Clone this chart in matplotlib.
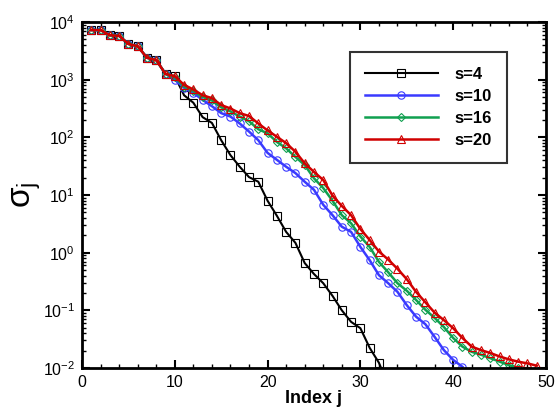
import numpy as np
import matplotlib
matplotlib.use('Agg')
import matplotlib.pyplot as plt
from matplotlib.ticker import LogLocator, MultipleLocator, NullFormatter

plt.rcParams['font.family'] = ['Liberation Sans', 'DejaVu Sans']
plt.rcParams['mathtext.default'] = 'regular'

# singular values (log10), index j = 1, 2, ...
head = [3.86, 3.86, 3.77, 3.76, 3.62, 3.58, 3.38, 3.34, 3.10]

log_s4 = head + [3.06, 2.73, 2.60, 2.35, 2.25, 1.95, 1.69, 1.49, 1.31, 1.23,
                 0.90, 0.64, 0.36, 0.17, -0.18, -0.37, -0.53, -0.75, -1.00, -1.20,
                 -1.31, -1.65, -1.91, -2.30]
log_s10 = head + [3.00, 2.86, 2.77, 2.65, 2.54, 2.42, 2.36, 2.24, 2.10, 1.95,
                  1.73, 1.61, 1.49, 1.38, 1.23, 1.09, 0.83, 0.65, 0.45, 0.36,
                  0.10, -0.13, -0.39, -0.53, -0.68, -0.91, -1.11, -1.24, -1.46, -1.69,
                  -1.86, -1.98]
log_s16 = head + [3.04, 2.88, 2.80, 2.70, 2.64, 2.52, 2.45, 2.36, 2.28, 2.14,
                  2.07, 1.92, 1.81, 1.66, 1.52, 1.29, 1.12, 0.90, 0.65, 0.51,
                  0.28, 0.10, -0.16, -0.34, -0.53, -0.66, -0.82, -0.99, -1.13, -1.29,
                  -1.48, -1.63, -1.72, -1.77, -1.83, -1.89, -1.95, -2.00]
log_s20 = head + [3.06, 2.91, 2.83, 2.73, 2.68, 2.56, 2.50, 2.42, 2.37, 2.24,
                  2.12, 2.01, 1.90, 1.75, 1.55, 1.40, 1.26, 0.99, 0.81, 0.65,
                  0.41, 0.22, 0.02, -0.12, -0.28, -0.46, -0.68, -0.86, -1.04, -1.17,
                  -1.31, -1.48, -1.63, -1.69, -1.74, -1.80, -1.85, -1.89, -1.92, -1.96]

series = [
    ('s=4', log_s4, 'black', 's', 1.5),
    ('s=10', log_s10, '#3a3aff', 'o', 1.8),
    ('s=16', log_s16, '#10a050', 'D', 1.8),
    ('s=20', log_s20, '#d00000', '^', 1.8),
]

fig = plt.figure(figsize=(5.57, 4.16), dpi=100)
ax = fig.add_axes([0.1472, 0.1154, 0.833, 0.8317])

for label, vals, color, marker, lw in series:
    j = np.arange(1, len(vals) + 1)
    ms = 3.8 if marker == 'D' else 5.3
    ax.plot(j, 10.0 ** np.array(vals), color=color, lw=lw, marker=marker,
            ms=ms, mfc='none', mec=color, mew=0.8, label=label)

ax.set_yscale('log')
ax.set_xlim(0, 50)
ax.set_ylim(1e-2, 1e4)

ax.xaxis.set_major_locator(MultipleLocator(10))
ax.xaxis.set_minor_locator(MultipleLocator(2))
ax.yaxis.set_major_locator(LogLocator(base=10, numticks=20))
ax.yaxis.set_minor_locator(LogLocator(base=10, subs=np.arange(2, 10), numticks=20))
ax.yaxis.set_minor_formatter(NullFormatter())

ax.tick_params(which='both', direction='in', top=True, right=True, labelsize=11.5)
ax.tick_params(which='major', length=6, width=1.5)
ax.tick_params(which='minor', length=3, width=1)
ax.tick_params(axis='x', pad=5)
ax.tick_params(axis='y', pad=5)
for sp in ax.spines.values():
    sp.set_linewidth(2)

ax.set_xlabel('Index j', fontsize=13, fontweight='bold', labelpad=0)
ax.set_ylabel(r'$\sigma_{j}$', fontsize=24, labelpad=0)

leg = ax.legend(loc='upper right', bbox_to_anchor=(0.916, 0.913), borderaxespad=0,
                frameon=True, fancybox=False, edgecolor='black', handlelength=4.4,
                prop={'weight': 'bold', 'size': 12}, borderpad=0.9,
                labelspacing=0.42, handletextpad=1.0, numpoints=1)
leg.get_frame().set_linewidth(1.5)

plt.savefig('out.png', dpi=100)
